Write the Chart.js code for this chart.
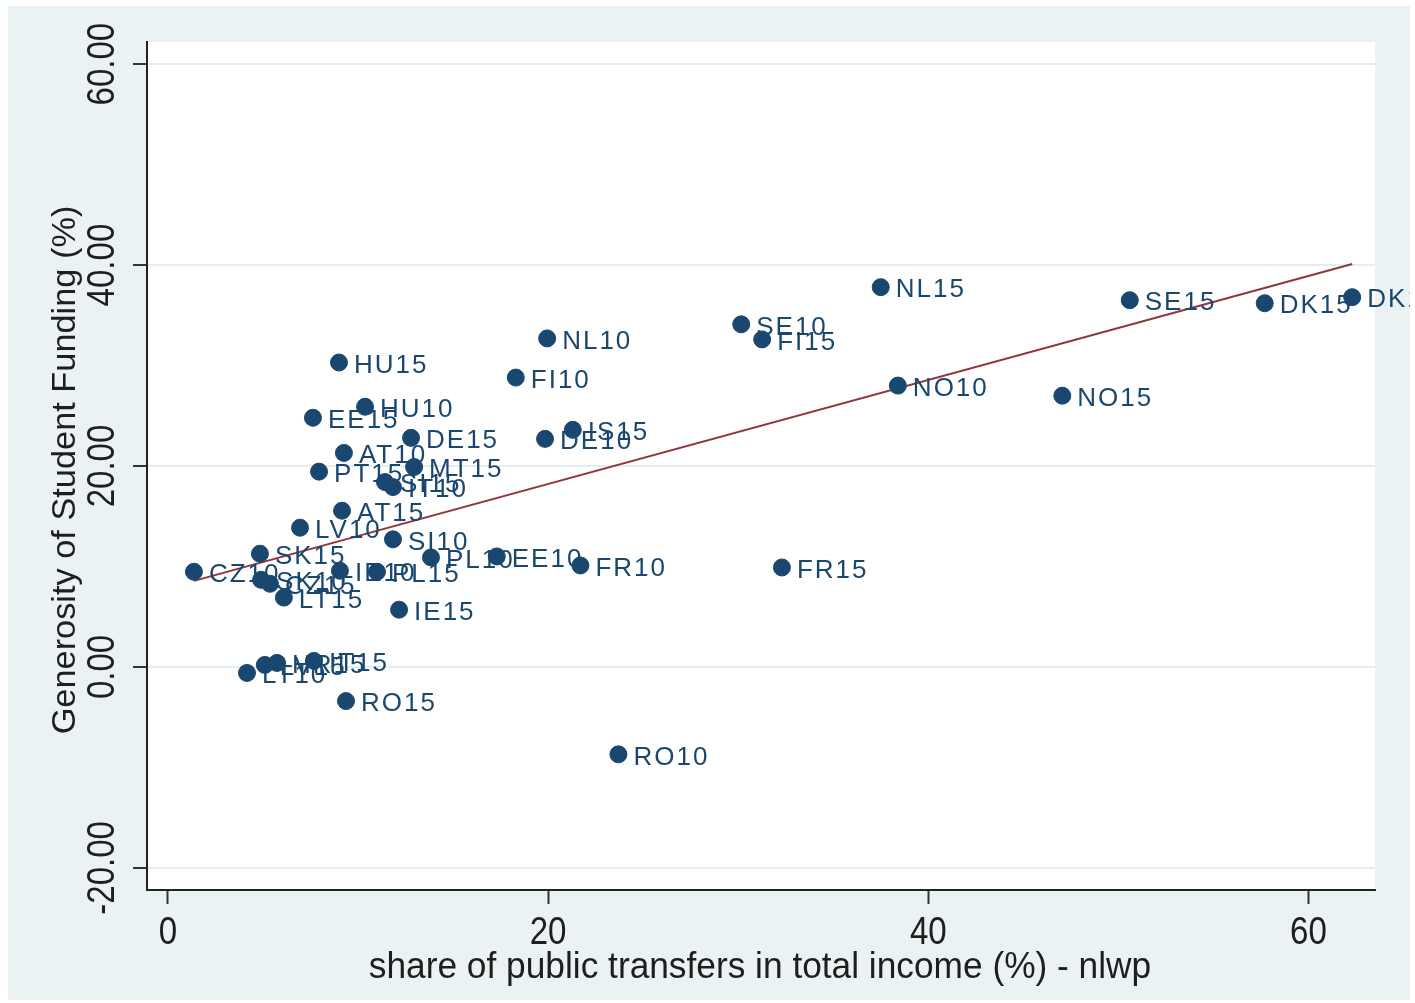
<!DOCTYPE html>
<html>
<head>
<meta charset="utf-8">
<script src="https://cdn.jsdelivr.net/npm/chart.js@4.4.1/dist/chart.umd.min.js"></script>
<style>
  html, body { margin: 0; padding: 0; background: #fff; }
  #wrap { width: 1415px; height: 1003px; }
</style>
</head>
<body>
<div id="wrap"><canvas id="chart" width="1415" height="1003"></canvas></div>
<script>
// country-year observations: public transfers share (x) vs funding generosity (y)
const countries = [
    "CZ10", "SK15", "SK10", "CZ15", "LV10", "LT15", "IE10", "PL15",
    "AT15", "PT15", "AT10", "EE15", "HU10", "HU15", "DE15", "MT15",
    "SI15", "IT10", "SI10", "IE15", "PL10", "EE10", "FR10", "FR15",
    "LT10", "LV15", "HR15", "IT15", "RO15", "RO10",
    "FI10", "NL10", "DE10", "IS15", "SE10", "FI15", "NL15", "NO10",
    "NO15", "SE15", "DK15", "DK10"
];
const shareTransfers = [
    1.37, 4.84, 4.9, 5.37, 6.95, 6.1, 9.05, 11.0,
    9.16, 7.95, 9.26, 7.63, 10.37, 9.0, 12.79, 12.95,
    11.42, 11.84, 11.84, 12.16, 13.84, 17.3, 21.7, 32.3,
    4.16, 5.1, 5.74, 7.68, 9.37, 23.7,
    18.3, 19.95, 19.84, 21.3, 30.16, 31.26, 37.5, 38.4,
    47.05, 50.6, 57.7, 62.3
];
const generosity = [
    9.47, 11.27, 8.67, 8.28, 13.86, 6.9, 9.57, 9.47,
    15.55, 19.44, 21.3, 24.8, 25.9, 30.3, 22.8, 19.9,
    18.4, 17.9, 12.7, 5.7, 10.9, 11.0, 10.1, 9.9,
    -0.6, 0.2, 0.4, 0.6, -3.4, -8.7,
    28.8, 32.7, 22.7, 23.6, 34.1, 32.6, 37.8, 28.0,
    27.0, 36.5, 36.2, 36.8
];

// fitted line, read at the two ends of the data range
const fitX = [1.37, 62.3];
const fitY = [8.57, 40.1];

const xTicks = [0, 20, 40, 60];
const yTicks = [-20, 0, 20, 40, 60];
const yTickLabels = ["-20.00", "0.00", "20.00", "40.00", "60.00"];
const xTitle = "share of public transfers in total income (%) - nlwp";
const yTitle = "Generosity of Student Funding (%)";

const NAVY = "#1a476f";
const MAROON = "#90353b";
const BG = "#eaf2f3";
const INK = "#1e1e1e";

function drawText(ctx, text, x, y, size, sx, angle, color, align) {
    ctx.save();
    ctx.translate(x, y);
    ctx.rotate(angle || 0);
    ctx.scale(sx, 1);
    ctx.font = size + "px 'Liberation Sans', Arial, sans-serif";
    ctx.fillStyle = color || INK;
    ctx.textAlign = align || "center";
    ctx.textBaseline = "middle";
    ctx.fillText(text, 0, 0);
    ctx.restore();
}

const stataLook = {
    id: "stataLook",
    beforeDraw(chart) {
        const { ctx, chartArea: a } = chart;
        ctx.save();
        ctx.fillStyle = "#fff";
        ctx.fillRect(0, 0, chart.width, chart.height);
        ctx.fillStyle = BG;
        ctx.fillRect(8, 6, 1402, 994);
        ctx.fillStyle = "#fff";
        ctx.fillRect(a.left, a.top, a.right - a.left, a.bottom - a.top);
        ctx.restore();
    },
    afterDatasetsDraw(chart) {
        // marker labels to the right of each point
        const { ctx } = chart;
        const meta = chart.getDatasetMeta(0);
        ctx.save();
        ctx.beginPath();
        ctx.rect(8, 6, 1402, 994);
        ctx.clip();
        ctx.letterSpacing = "2px";
        meta.data.forEach((pt, i) => {
            ctx.font = "26px 'Liberation Sans', Arial, sans-serif";
            ctx.fillStyle = NAVY;
            ctx.textAlign = "left";
            ctx.textBaseline = "middle";
            ctx.fillText(countries[i], pt.x + 15, pt.y + 3);
        });
        ctx.restore();
    },
    afterDraw(chart) {
        const { ctx } = chart;
        const xs = chart.scales.x, ys = chart.scales.y;
        xTicks.forEach(v => {
            drawText(ctx, String(v), xs.getPixelForValue(v), 934, 38, 0.87, 0);
        });
        yTicks.forEach((v, i) => {
            drawText(ctx, yTickLabels[i], 104, ys.getPixelForValue(v), 38, 0.87, -Math.PI / 2);
        });
        drawText(ctx, xTitle, 760, 968, 36, 0.98, 0);
        drawText(ctx, yTitle, 66, 470, 34, 1.01, -Math.PI / 2);
    }
};

new Chart(document.getElementById("chart"), {
    type: "scatter",
    data: {
        datasets: [
            {
                label: "generosity",
                data: shareTransfers.map((x, i) => ({ x: x, y: generosity[i] })),
                backgroundColor: NAVY,
                borderColor: NAVY,
                pointRadius: 8.5,
                pointHoverRadius: 8.5
            },
            {
                label: "fit",
                type: "line",
                data: fitX.map((x, i) => ({ x: x, y: fitY[i] })),
                borderColor: MAROON,
                borderWidth: 2,
                pointRadius: 0,
                fill: false
            }
        ]
    },
    options: {
        responsive: false,
        animation: false,
        layout: { padding: { left: 8, top: 42, right: 40, bottom: 13 } },
        plugins: { legend: { display: false }, tooltip: { enabled: false } },
        scales: {
            x: {
                type: "linear",
                min: -1.1,
                max: 63.5,
                afterBuildTicks: s => { s.ticks = xTicks.map(v => ({ value: v })); },
                afterFit: s => { s.height = 100; },
                ticks: { display: false },
                grid: { drawOnChartArea: false, tickLength: 14, tickColor: "#333", tickWidth: 2 },
                border: { color: "#222", width: 2 }
            },
            y: {
                type: "linear",
                min: -22.2,
                max: 62.2,
                afterBuildTicks: s => { s.ticks = yTicks.map(v => ({ value: v })); },
                afterFit: s => { s.width = 139; },
                ticks: { display: false },
                grid: { color: "#e4eef0", lineWidth: 2, tickLength: 14, tickColor: "#333", tickWidth: 2 },
                border: { color: "#222", width: 2 }
            }
        }
    },
    plugins: [stataLook]
});
</script>
</body>
</html>
